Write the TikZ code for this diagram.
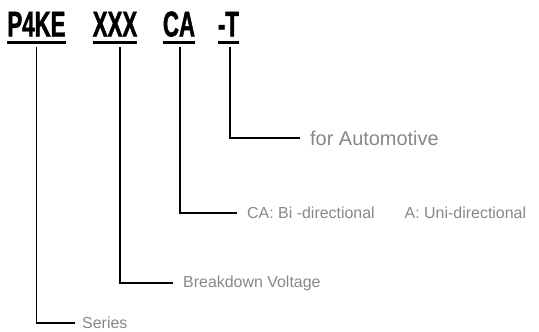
\documentclass[tikz,border=0pt]{standalone}
\usepackage{fontspec}
\setmainfont{Liberation Sans}
\newfontfamily\codefont{Liberation Sans}[FakeStretch=0.62,FakeBold=1.2]
\usetikzlibrary{positioning,calc}
\definecolor{notegray}{RGB}{135,135,135}

\begin{document}
\begin{tikzpicture}[x=1bp,y=-1bp,
    code/.style={font=\codefont\bfseries\fontsize{36}{36}\selectfont, inner sep=0pt, anchor=base},
    note/.style={font=\fontsize{16}{17}\selectfont, text=notegray, inner sep=0pt, anchor=west},
    leader/.style={line width=1.3bp},
    bar/.style={line width=3bp}]
    \useasboundingbox (0,0) rectangle (539,331);
    % part number
    \node[code] (p4ke) at (36.5,36.5) {P4KE};
    \node[code] (xxx) at (115,36.5) {XXX};
    \node[code] (ca) at (179,36.5) {CA};
    \node[code] (tt) at (228.5,36.5) {-T};
    \foreach \n in {p4ke,xxx,ca,tt}
        \draw[bar] ([yshift=-5.5bp]\n.base west) -- ([yshift=-5.5bp]\n.base east);
    % meanings
    \node[note] (series) at (82,323) {Series};
    \node[note] (volt) at (183,283) {Breakdown Voltage};
    \node[note] (dir) at (247,213) {CA: Bi -directional\hspace{30bp}A: Uni-directional};
    \node[note, font=\fontsize{20}{22}\selectfont] (auto) at (310,138) {for Automotive};
    % leaders
    \draw[leader] ([yshift=-10.5bp]p4ke.base) |- ([xshift=-7bp]series.west);
    \draw[leader] ([xshift=5bp,yshift=-10.5bp]xxx.base) |- ([xshift=-10bp]volt.west);
    \draw[leader] ([xshift=1bp,yshift=-10.5bp]ca.base) |- ([xshift=-10bp]dir.west);
    \draw[leader] ([xshift=1.5bp,yshift=-10.5bp]tt.base) |- ([xshift=-10bp]auto.west);
\end{tikzpicture}
\end{document}
